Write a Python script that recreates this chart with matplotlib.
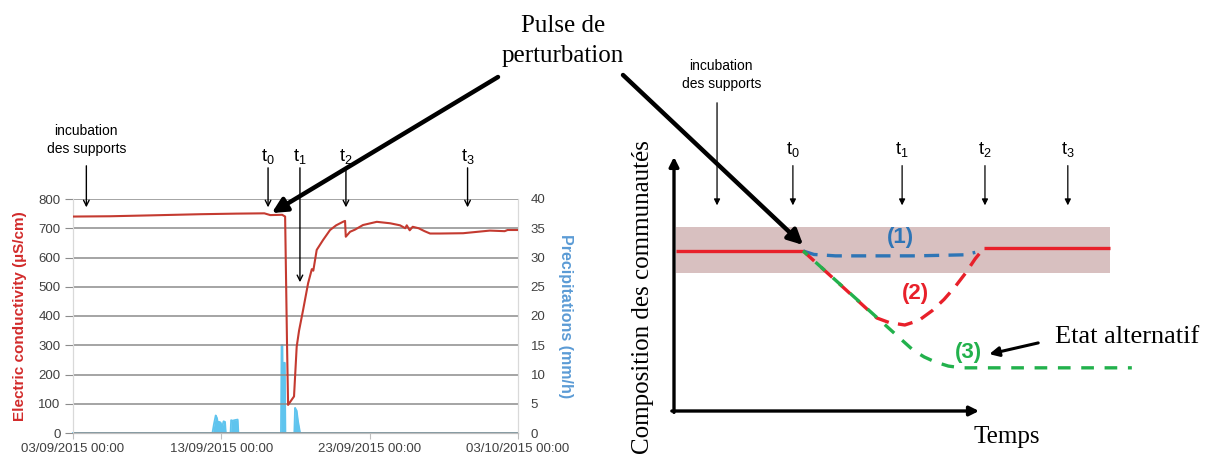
import numpy as np
import matplotlib.pyplot as plt

plt.rcParams['font.family'] = ['Liberation Sans', 'DejaVu Sans']
plt.rcParams['mathtext.default'] = 'regular'

# ---- panneau gauche : suivi de terrain (jours depuis le 03/09/2015) ----
DATE_TICKS = [0, 10, 20, 30]
DATE_LABELS = ['03/09/2015 00:00', '13/09/2015 00:00',
               '23/09/2015 00:00', '03/10/2015 00:00']

COND_DAYS = [0, 2.5, 5.2, 8.6, 11.0, 12.9, 13.3, 14.1, 14.3, 14.43, 14.5,
             14.83, 14.9, 15.08, 15.24, 15.51, 15.85, 16.1, 16.2, 16.43,
             16.86, 17.33, 17.74, 18.2, 18.34, 18.39, 18.68, 19.0, 19.55,
             20.48, 21.38, 22.05, 22.4, 22.5, 22.7, 22.9, 23.3, 23.7, 24.07,
             24.75, 26.3, 28.1, 29.1, 29.3, 30]
COND_VALUES = [740, 741, 744, 748, 750, 751, 745, 746, 740, 300, 96,
               120, 125, 295, 350, 420, 512, 560, 555, 626,
               660, 694, 710, 722, 725, 671, 688, 695, 711,
               722, 717, 710, 700, 710, 693, 705, 700, 690, 682,
               682, 683, 692, 690, 694, 694]

PRECIP_DAYS = [0, 9.40, 9.50, 9.62, 9.70, 9.78, 9.85, 9.95, 10.05, 10.15,
               10.25, 10.30, 10.62, 10.66, 10.75, 10.90, 11.10, 11.15,
               14.02, 14.06, 14.12, 14.16, 14.22, 14.28, 14.32,
               14.92, 14.97, 15.08, 15.17, 15.31, 30]
PRECIP_VALUES = [0, 0, 1.5, 3.0, 2.6, 1.6, 1.9, 1.8, 1.0, 2.0,
                 1.9, 0, 0, 2.2, 2.1, 2.2, 2.3, 0,
                 0, 15, 15, 1.5, 12, 12, 0,
                 0, 4.3, 3.8, 2.0, 0, 0]

T_DAYS = [13.15, 15.3, 18.4, 26.6]
INCUB_DAY = 0.9

# ---- panneau droit : schéma conceptuel (unités arbitraires) ----
T_SCHEMA = [22.1, 42.4, 57.8, 73.2]
INCUB_SCHEMA = 8.0

BAND_X = [0.4, 81]
BAND_Y = (39.3, 52.4)

REF_BEFORE_X = [0.4, 24.0]
REF_BEFORE_Y = [45.6, 45.6]
REF_AFTER_X = [57.6, 81]
REF_AFTER_Y = [46.4, 46.4]

CURVE1_X = [24.0, 26.0, 30.0, 45.0, 54.0, 56.0]
CURVE1_Y = [45.6, 44.6, 44.2, 44.2, 44.5, 45.2]

CURVE2_X = [24.0, 30.9, 37.7, 40.0, 42.9, 45.5, 48.0, 50.2, 52.2, 54.2, 56.0, 57.6]
CURVE2_Y = [45.6, 36.0, 26.5, 25.2, 24.5, 25.8, 28.6, 31.8, 35.3, 39.3, 43.4, 46.4]

CURVE3_X = [24.0, 34.2, 44.4, 46.5, 48.5, 51.0, 53.5, 85.1]
CURVE3_Y = [45.6, 31.5, 17.4, 15.4, 14.0, 12.8, 12.3, 12.3]

RED = '#c43a30'
BLUE_P = '#5fc4ee'
GRID = '#8c8c8c'
TXT = '#404040'

W, H = 1212, 459
fig = plt.figure(figsize=(W / 100, H / 100), dpi=100)


def px_rect(x0, y0, x1, y1):
    return [x0 / W, (H - y1) / H, (x1 - x0) / W, (y1 - y0) / H]


# ================= graphique de gauche =================
ax1 = fig.add_axes(px_rect(73, 199, 518, 433))
ax2 = ax1.twinx()

ax1.plot(COND_DAYS, COND_VALUES, color=RED, lw=1.5, zorder=3)
ax1.set_xlim(0, 30)
ax1.set_ylim(0, 800)
ax1.set_yticks(range(0, 801, 100))
ax1.yaxis.grid(True, color=GRID, lw=1.1)
ax1.set_axisbelow(True)
ax1.set_xticks(DATE_TICKS)
ax1.set_xticklabels(DATE_LABELS)
ax1.tick_params(axis='y', length=6, color=GRID, pad=3, labelsize=9.5, labelcolor=TXT)
ax1.tick_params(axis='x', length=4, color='#bfbfbf', pad=3, labelsize=9.5, labelcolor=TXT)
ax1.set_ylabel('Electric conductivity (µS/cm)', color='#d22b2b', fontsize=11,
               fontweight='bold', labelpad=8)

ax2.fill_between(PRECIP_DAYS, PRECIP_VALUES, color=BLUE_P, lw=0)
ax2.plot(PRECIP_DAYS, PRECIP_VALUES, color=BLUE_P, lw=1.3, clip_on=False)
ax2.set_ylim(0, 40)
ax2.set_yticks(range(0, 41, 5))
ax2.tick_params(axis='y', length=0, pad=9, labelsize=9.5, labelcolor=TXT)
ax2.set_ylabel('Precipitations (mm/h)', color='#5b9bd5', fontsize=11.5,
               fontweight='bold', rotation=270, labelpad=20)

for ax in (ax1, ax2):
    ax.spines['top'].set_visible(False)
    ax.spines['left'].set_color('#d9d9d9')
    ax.spines['right'].set_color('#d9d9d9')
    ax.spines['bottom'].set_color('#bfbfbf')

ax1.set_zorder(ax2.get_zorder() + 1)
ax1.patch.set_visible(False)

small_arrow = dict(arrowstyle='->', color='black', lw=1.0, mutation_scale=10)
for i, d in enumerate(T_DAYS):
    end = 506 if i == 1 else 762
    ax1.annotate('', xy=(d, end), xytext=(d, 916), arrowprops=small_arrow,
                 annotation_clip=False)
    ax1.text(d, 944, f't$_{i}$', ha='center', va='center', fontsize=13)
ax1.annotate('', xy=(INCUB_DAY, 762), xytext=(INCUB_DAY, 923),
             arrowprops=small_arrow, annotation_clip=False)
ax1.text(INCUB_DAY, 1002, 'incubation\ndes supports', ha='center', va='center',
         fontsize=10, linespacing=1.35)

# ================= schéma de droite =================
dax = fig.add_axes(px_rect(674, 60, 1212, 411))
dax.set_xlim(0, 100)
dax.set_ylim(0, 100)
dax.axis('off')

dax.fill_between(BAND_X, BAND_Y[0], BAND_Y[1], color='#d8c0c0', lw=0)
dax.plot(REF_BEFORE_X, REF_BEFORE_Y, color='#e8202a', lw=2.4, solid_capstyle='butt')
dax.plot(REF_AFTER_X, REF_AFTER_Y, color='#e8202a', lw=2.4, solid_capstyle='butt')
dax.plot(CURVE1_X, CURVE1_Y, color='#2e75b6', lw=2.4, linestyle=(0, (4.5, 2.8)))
dax.plot(CURVE2_X, CURVE2_Y, color='#e8202a', lw=2.4, linestyle=(0, (4.5, 2.8)))
dax.plot(CURVE3_X, CURVE3_Y, color='#22b14c', lw=2.4, linestyle=(2.0, (3.8, 3.2)))

axis_arrow = dict(arrowstyle='-|>', color='black', lw=2.4, mutation_scale=14,
                  shrinkA=0, shrinkB=0)
dax.annotate('', xy=(0, 72.4), xytext=(0, -0.4), arrowprops=axis_arrow, annotation_clip=False)
dax.annotate('', xy=(56.7, 0), xytext=(-0.4, 0), arrowprops=axis_arrow, annotation_clip=False)

thin_arrow = dict(arrowstyle='-|>', color='black', lw=0.9, mutation_scale=9)
for i, t in enumerate(T_SCHEMA):
    dax.annotate('', xy=(t, 57.8), xytext=(t, 70.7), arrowprops=thin_arrow)
    dax.text(t, 74.4, f't$_{i}$', ha='center', va='center', fontsize=13)
dax.annotate('', xy=(INCUB_SCHEMA, 57.8), xytext=(INCUB_SCHEMA, 88.6), arrowprops=thin_arrow)
dax.text(INCUB_SCHEMA + 0.8, 95.7, 'incubation\ndes supports', ha='center', va='center',
         fontsize=10, linespacing=1.35)

dax.text(42.0, 49.3, '(1)', color='#2e75b6', fontsize=16, fontweight='bold',
         ha='center', va='center')
dax.text(44.8, 33.6, '(2)', color='#e8202a', fontsize=16, fontweight='bold',
         ha='center', va='center')
dax.text(54.8, 16.8, '(3)', color='#22b14c', fontsize=16, fontweight='bold',
         ha='center', va='center')

serif = ['Liberation Serif', 'DejaVu Serif']
dax.text(70.8, 21.1, 'Etat alternatif', family=serif, fontsize=19, ha='left', va='center')
dax.annotate('', xy=(58.6, 16.2), xytext=(67.7, 19.4),
             arrowprops=dict(arrowstyle='-|>', color='black', lw=2.2, mutation_scale=14,
                             shrinkA=0, shrinkB=0))
dax.text(61.9, -7.4, 'Temps', family=serif, fontsize=18, ha='center', va='center',
         clip_on=False)
dax.text(-5.8, 32.5, 'Composition des communautés', family=serif, fontsize=18,
         rotation=90, ha='center', va='center', clip_on=False)

# ================= annotation commune =================
ov = fig.add_axes([0, 0, 1, 1], zorder=10)
ov.set_xlim(0, W)
ov.set_ylim(H, 0)
ov.axis('off')
ov.patch.set_visible(False)

ov.text(563, 41, 'Pulse de\nperturbation', family=serif, fontsize=18,
        ha='center', va='center', linespacing=1.5)
big_arrow = dict(arrowstyle='-|>', color='black', lw=3.2, mutation_scale=22,
                 shrinkA=0, shrinkB=0)
ov.annotate('', xy=(13.4, 752), xycoords=ax1.transData, xytext=(498, 77),
            textcoords='data', arrowprops=big_arrow)
ov.annotate('', xy=(24.0, 47.3), xycoords=dax.transData, xytext=(623, 75),
            textcoords='data', arrowprops=big_arrow)

fig.savefig('out.png', dpi=100, facecolor='white')
